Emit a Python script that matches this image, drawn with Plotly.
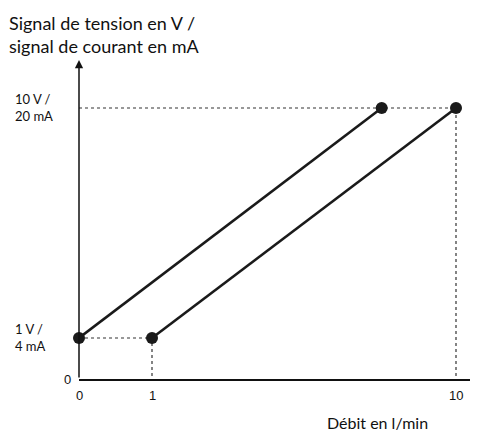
import numpy as np
import plotly.graph_objects as go

# --- data (schematic chart) ---
flow_ticks = [0, 1, 10]                 # Débit en l/min
flow_tick_labels = ["0", "1", "10"]
signal_ticks = [0, 1, 10]               # 0 / 1 V-4 mA / 10 V-20 mA
signal_tick_labels = ["0", "1 V /<br>4 mA", "10 V /<br>20 mA"]

line_a_flow = [0, 7.8]
line_a_signal = [1, 10]
line_b_flow = [1, 10]
line_b_signal = [1, 10]

# schematic (non-linear) axis mapping: tick value -> axis position
flow_positions = [0, 73, 377]
signal_positions = [0, 41, 271]
X_SPAN = 399
Y_SPAN = 329


def xp(v):
    return np.interp(v, flow_ticks, flow_positions)


def yp(v):
    return np.interp(v, signal_ticks, signal_positions)


humanist = "Lato, 'Open Sans', sans-serif"
arial = "'Liberation Sans', Arial, sans-serif"
ink = "#111111"

fig = go.Figure()

dot_style = dict(color="#333333", width=1.2, dash="dot")
fig.add_trace(go.Scatter(x=[xp(0), xp(10), xp(10)], y=[yp(10), yp(10), yp(0)],
                         mode="lines", line=dot_style, hoverinfo="skip", cliponaxis=False))
fig.add_trace(go.Scatter(x=[xp(0), xp(1), xp(1)], y=[yp(1), yp(1), yp(0)],
                         mode="lines", line=dot_style, hoverinfo="skip", cliponaxis=False))

for fx, sy in [(line_a_flow, line_a_signal), (line_b_flow, line_b_signal)]:
    fig.add_trace(go.Scatter(x=xp(fx), y=yp(sy), mode="lines+markers",
                             line=dict(color="#1a1a1a", width=2.6),
                             marker=dict(color="#1a1a1a", size=12),
                             cliponaxis=False, hoverinfo="skip"))

annotations = []
# y axis with arrow
annotations.append(dict(x=0, y=319, ax=0, ay=0, xref="x", yref="y", axref="x", ayref="y",
                        showarrow=True, arrowhead=2, arrowsize=1.1, arrowwidth=1.5,
                        arrowcolor=ink, text=""))
# y tick labels
for v, lab in zip(signal_ticks, signal_tick_labels):
    if v == 0:
        annotations.append(dict(x=-6 / X_SPAN, y=yp(v) / Y_SPAN, xref="paper", yref="paper",
                                text=lab, showarrow=False, xanchor="right", yanchor="middle",
                                font=dict(family=arial, size=13, color=ink)))
    else:
        annotations.append(dict(x=-66 / X_SPAN, y=(yp(v) + 1) / Y_SPAN,
                                xref="paper", yref="paper",
                                text=lab, showarrow=False, xanchor="left", yanchor="middle", align="left",
                                font=dict(family=humanist, size=13, color=ink)))
# x tick labels
for v, lab in zip(flow_ticks, flow_tick_labels):
    annotations.append(dict(x=xp(v) / X_SPAN, y=-16 / Y_SPAN, xref="paper", yref="paper",
                            text=lab, showarrow=False, xanchor="center", yanchor="middle",
                            font=dict(family=arial, size=13, color=ink)))
# axis titles
annotations.append(dict(x=-72 / X_SPAN, y=1 + 40 / Y_SPAN, xref="paper", yref="paper",
                        xanchor="left", yanchor="top",
                        text="Signal de tension en V /<br>signal de courant en mA", align="left",
                        showarrow=False, font=dict(family=humanist, size=18, color=ink)))
annotations.append(dict(x=(xp(10) - 79) / X_SPAN, y=-44 / Y_SPAN, xref="paper", yref="paper",
                        xanchor="center", yanchor="middle",
                        text="Débit en l/min", showarrow=False,
                        font=dict(family=humanist, size=16, color=ink)))

# page body has an 8px margin, so the figure is 8px smaller than the window
fig.update_layout(
    width=470, height=426,
    margin=dict(l=71, r=0, t=42, b=55),
    paper_bgcolor="white", plot_bgcolor="white",
    showlegend=False,
    xaxis=dict(range=[0, X_SPAN], showgrid=False, zeroline=False, showticklabels=False,
               showline=True, linecolor=ink, linewidth=1.5, ticks=""),
    yaxis=dict(range=[0, Y_SPAN], showgrid=False, zeroline=False, showticklabels=False,
               showline=False, ticks=""),
    annotations=annotations,
)

fig.write_html("out.html")
